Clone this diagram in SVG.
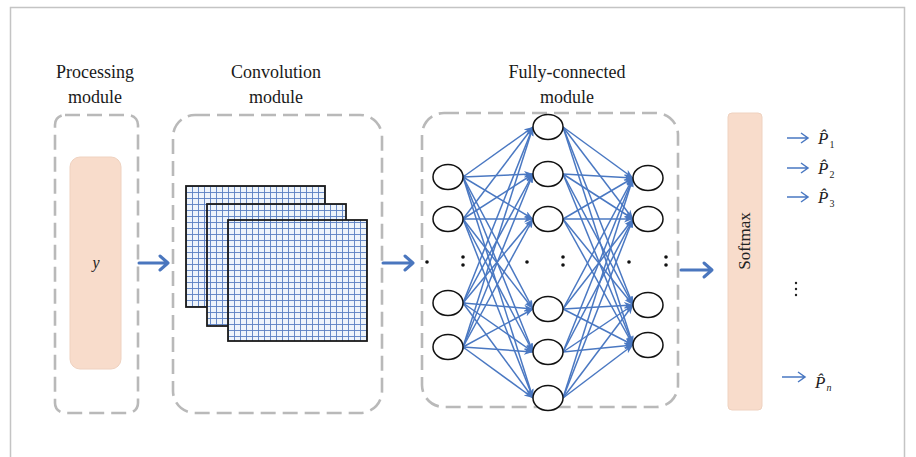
<svg xmlns="http://www.w3.org/2000/svg" width="916" height="457" viewBox="0 0 916 457">
<style>
.lbl{font-family:"Liberation Serif","Times New Roman",serif;font-size:18px;fill:#1a1a1a;text-anchor:middle}
.dash{fill:none;stroke:#b9b9b9;stroke-width:2.6;stroke-dasharray:15 7}
.pink{fill:#f8dccb;stroke:#efd2c0;stroke-width:1}
.node{fill:#fff;stroke:#111;stroke-width:1.5}
.e{stroke:#4a78c2;stroke-width:1.5;marker-end:url(#ah)}
.big{stroke:#4a76be;stroke-width:3;fill:none;stroke-linecap:round;stroke-linejoin:round}
.sm{stroke:#4a78c2;stroke-width:1.5;fill:none}
.grid{fill:url(#gp);stroke:#1a1a1a;stroke-width:1.8}
.pv{font-family:"Liberation Serif","Times New Roman",serif;font-size:17px;font-style:italic;fill:#222}
.sub{font-style:normal;font-size:10px}
.subi{font-style:italic;font-size:10px}
</style>
<defs>
<marker id="ah" markerUnits="userSpaceOnUse" markerWidth="10" markerHeight="8" refX="9" refY="3.5" orient="auto">
<path d="M0,0 L9,3.5 L0,7 L2.5,3.5 z" fill="#4a78c2"/>
</marker>
<pattern id="gp" patternUnits="userSpaceOnUse" width="6" height="6">
<rect width="6" height="6" fill="#eef4fb"/>
<path d="M0,0.5 H6 M0.5,0 V6" stroke="#5a7fc2" stroke-width="0.9"/>
</pattern>
</defs>
<rect x="0" y="0" width="916" height="457" fill="#fff"/>
<path d="M10.5,457 V7.5 H904.5 V457" fill="none" stroke="#c4c4c4" stroke-width="1.5"/>

<g id="labels">
<text class="lbl" x="95" y="78">Processing</text>
<text class="lbl" x="95" y="103">module</text>
<text class="lbl" x="276" y="78">Convolution</text>
<text class="lbl" x="276" y="103">module</text>
<text class="lbl" x="567" y="78">Fully-connected</text>
<text class="lbl" x="567" y="103">module</text>
</g>

<g id="processing">
<rect class="dash" x="55" y="115" width="83" height="298" rx="10"/>
<rect class="pink" x="70" y="157" width="51" height="212" rx="10"/>
<text x="96" y="268" font-family="Liberation Serif,serif" font-size="16" font-style="italic" fill="#222" text-anchor="middle">y</text>
</g>

<g id="convolution">
<rect class="dash" x="173" y="115" width="209" height="298" rx="22"/>
<rect class="grid" x="186" y="186" width="139" height="121"/>
<rect class="grid" x="207" y="204" width="139" height="122"/>
<rect class="grid" x="228" y="220" width="139" height="121"/>
</g>

<g id="fully-connected">
<rect class="dash" x="422" y="113" width="256" height="294" rx="22"/>
</g>

<g id="connectors">
<line class="e" x1="463" y1="177" x2="533" y2="127"/>
<line class="e" x1="463" y1="177" x2="533" y2="174"/>
<line class="e" x1="463" y1="177" x2="533" y2="219"/>
<line class="e" x1="463" y1="177" x2="533" y2="309"/>
<line class="e" x1="463" y1="177" x2="533" y2="352"/>
<line class="e" x1="463" y1="177" x2="533" y2="398"/>
<line class="e" x1="463" y1="219" x2="533" y2="127"/>
<line class="e" x1="463" y1="219" x2="533" y2="174"/>
<line class="e" x1="463" y1="219" x2="533" y2="219"/>
<line class="e" x1="463" y1="219" x2="533" y2="309"/>
<line class="e" x1="463" y1="219" x2="533" y2="352"/>
<line class="e" x1="463" y1="219" x2="533" y2="398"/>
<line class="e" x1="463" y1="303" x2="533" y2="127"/>
<line class="e" x1="463" y1="303" x2="533" y2="174"/>
<line class="e" x1="463" y1="303" x2="533" y2="219"/>
<line class="e" x1="463" y1="303" x2="533" y2="309"/>
<line class="e" x1="463" y1="303" x2="533" y2="352"/>
<line class="e" x1="463" y1="303" x2="533" y2="398"/>
<line class="e" x1="463" y1="347" x2="533" y2="127"/>
<line class="e" x1="463" y1="347" x2="533" y2="174"/>
<line class="e" x1="463" y1="347" x2="533" y2="219"/>
<line class="e" x1="463" y1="347" x2="533" y2="309"/>
<line class="e" x1="463" y1="347" x2="533" y2="352"/>
<line class="e" x1="463" y1="347" x2="533" y2="398"/>

<line class="e" x1="563" y1="127" x2="633" y2="178"/>
<line class="e" x1="563" y1="127" x2="633" y2="219"/>
<line class="e" x1="563" y1="127" x2="633" y2="305"/>
<line class="e" x1="563" y1="127" x2="633" y2="345"/>
<line class="e" x1="563" y1="174" x2="633" y2="178"/>
<line class="e" x1="563" y1="174" x2="633" y2="219"/>
<line class="e" x1="563" y1="174" x2="633" y2="305"/>
<line class="e" x1="563" y1="174" x2="633" y2="345"/>
<line class="e" x1="563" y1="219" x2="633" y2="178"/>
<line class="e" x1="563" y1="219" x2="633" y2="219"/>
<line class="e" x1="563" y1="219" x2="633" y2="305"/>
<line class="e" x1="563" y1="219" x2="633" y2="345"/>
<line class="e" x1="563" y1="309" x2="633" y2="178"/>
<line class="e" x1="563" y1="309" x2="633" y2="219"/>
<line class="e" x1="563" y1="309" x2="633" y2="305"/>
<line class="e" x1="563" y1="309" x2="633" y2="345"/>
<line class="e" x1="563" y1="352" x2="633" y2="178"/>
<line class="e" x1="563" y1="352" x2="633" y2="219"/>
<line class="e" x1="563" y1="352" x2="633" y2="305"/>
<line class="e" x1="563" y1="352" x2="633" y2="345"/>
<line class="e" x1="563" y1="398" x2="633" y2="178"/>
<line class="e" x1="563" y1="398" x2="633" y2="219"/>
<line class="e" x1="563" y1="398" x2="633" y2="305"/>
<line class="e" x1="563" y1="398" x2="633" y2="345"/>

<g fill="#4a78c2">
<circle cx="463" cy="177" r="2.5"/><circle cx="463" cy="219" r="2.5"/>
<circle cx="463" cy="303" r="2.5"/><circle cx="463" cy="347" r="2.5"/>
</g>

<path class="big" d="M139,263 H168 M160,256 L168,263 L160,270"/>
<path class="big" d="M383,263 H413 M405,256 L413,263 L405,270"/>
<path class="big" d="M681,270 H712 M704,263 L712,270 L704,277"/>

<path class="sm" d="M787,138 H808 M801,133 L808,138 L801,143"/>
<path class="sm" d="M787,168 H808 M801,163 L808,168 L801,173"/>
<path class="sm" d="M787,197 H808 M801,192 L808,197 L801,202"/>
<path class="sm" d="M782,377 H805 M798,372 L805,377 L798,382"/>
</g>

<g id="fc-nodes">
<ellipse class="node" cx="448" cy="177" rx="15" ry="12.5"/>
<ellipse class="node" cx="448" cy="219" rx="15" ry="12.5"/>
<ellipse class="node" cx="448" cy="303" rx="15" ry="12.5"/>
<ellipse class="node" cx="448" cy="347" rx="15" ry="12.5"/>
<ellipse class="node" cx="548" cy="127" rx="15" ry="12.5"/>
<ellipse class="node" cx="548" cy="174" rx="15" ry="12.5"/>
<ellipse class="node" cx="548" cy="219" rx="15" ry="12.5"/>
<ellipse class="node" cx="548" cy="309" rx="15" ry="12.5"/>
<ellipse class="node" cx="548" cy="352" rx="15" ry="12.5"/>
<ellipse class="node" cx="548" cy="398" rx="15" ry="12.5"/>
<ellipse class="node" cx="648" cy="178" rx="15" ry="12.5"/>
<ellipse class="node" cx="648" cy="219" rx="15" ry="12.5"/>
<ellipse class="node" cx="648" cy="305" rx="15" ry="12.5"/>
<ellipse class="node" cx="648" cy="345" rx="15" ry="12.5"/>
<g fill="#111">
<circle cx="427" cy="262" r="1.8"/><circle cx="463" cy="257" r="1.8"/><circle cx="463" cy="265" r="1.8"/>
<circle cx="527" cy="262" r="1.8"/><circle cx="563" cy="257" r="1.8"/><circle cx="563" cy="265" r="1.8"/>
<circle cx="629" cy="262" r="1.8"/><circle cx="666" cy="257" r="1.8"/><circle cx="666" cy="265" r="1.8"/>
</g>
</g>

<g id="softmax">
<rect class="pink" x="728" y="113" width="34" height="297" rx="4"/>
<text x="0" y="0" transform="translate(750,241) rotate(-90)" font-family="Liberation Serif,serif" font-size="17" fill="#222" text-anchor="middle">Softmax</text>
</g>

<g id="outputs">
<text class="pv" x="818" y="144">P̂<tspan class="sub" dx="1" dy="4">1</tspan></text>
<text class="pv" x="818" y="174">P̂<tspan class="sub" dx="1" dy="4">2</tspan></text>
<text class="pv" x="818" y="203">P̂<tspan class="sub" dx="1" dy="4">3</tspan></text>
<text class="pv" x="815" y="388">P̂<tspan class="subi" dx="1" dy="3">n</tspan></text>
<g fill="#222">
<circle cx="796" cy="283" r="1.2"/><circle cx="796" cy="289" r="1.2"/><circle cx="796" cy="295" r="1.2"/>
</g>
</g>
</svg>
